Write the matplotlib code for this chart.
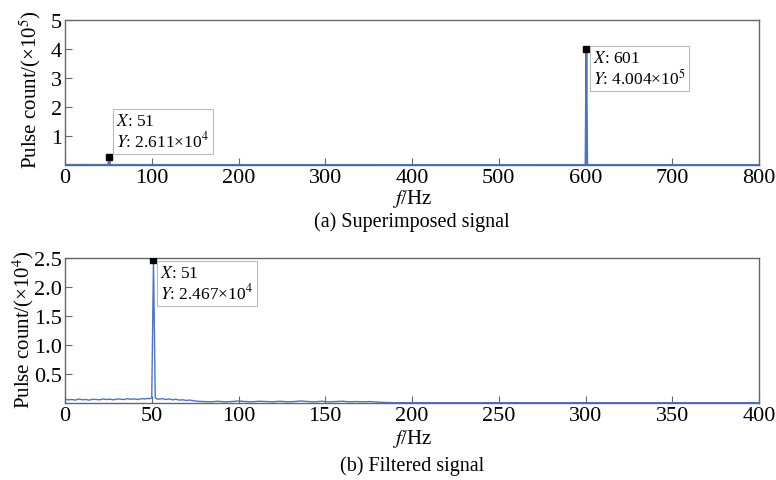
import numpy as np
import matplotlib.pyplot as plt

plt.rcParams['font.family'] = ['Liberation Serif', 'DejaVu Serif']
plt.rcParams['mathtext.fontset'] = 'stix'

# (a) superimposed signal: spectrum in pulse counts
topFreq = [0, 10, 20, 30, 40, 49, 50, 51, 52, 53, 100, 200, 300, 400, 500, 599, 600, 601, 602, 603, 700, 800]
topCount = [600, 500, 700, 600, 500, 600, 800, 26110, 700, 500, 400, 300, 300, 200, 200, 300, 900, 400400, 900, 300, 200, 200]

# (b) filtered signal
botFreq = [0, 2, 4, 6, 8, 10, 12, 14, 16, 18, 20, 22, 24, 26, 28, 30, 32, 34, 36, 38, 40, 42, 44, 46, 48,
           49, 50, 51, 52, 53, 54, 56, 58, 60, 62, 64, 66, 68, 70, 72, 74, 76, 80, 84, 88, 92, 96, 100,
           104, 108, 112, 116, 120, 124, 128, 132, 136, 140, 144, 148, 152, 156, 160, 164, 168, 172,
           176, 180, 184, 190, 250, 300, 350, 400]
botCount = [650, 550, 600, 500, 700, 550, 600, 500, 650, 600, 550, 700, 600, 650, 550, 700, 650, 600, 750, 650, 700, 600, 750, 700, 800,
            750, 900, 24670, 900, 700, 650, 750, 600, 700, 550, 650, 500, 550, 450, 500, 400, 300, 250, 200, 300, 200, 250, 350,
            250, 200, 300, 250, 200, 300, 200, 250, 350, 250, 200, 300, 200, 250, 300, 200, 250, 200,
            250, 150, 100, 50, 50, 50, 50, 50]

lineColor = '#4a74c9'
frameColor = '#666666'

fig = plt.figure(figsize=(7.76, 4.81), dpi=100)


def styleAxes(ax):
    for side in ['top', 'right', 'left', 'bottom']:
        ax.spines[side].set_color(frameColor)
        ax.spines[side].set_linewidth(1.0)
    ax.tick_params(direction='in', length=5, width=0.8, color=frameColor,
                   labelsize=16, pad=2, top=False, right=False)


def dataTip(ax, x, y, text, dx, dy, va):
    ax.plot([x], [y], 's', color='black', markersize=5, zorder=5)
    ax.annotate(text, xy=(x, y), xytext=(dx, dy), textcoords='offset pixels',
                ha='left', va=va, fontsize=12.5, linespacing=1.1,
                bbox=dict(boxstyle='square,pad=0.2', fc='white', ec='#bbbbbb', lw=0.8),
                zorder=6)


# top panel
ax1 = fig.add_axes([65 / 776, 1 - 166 / 481, 694 / 776, 145 / 481])
ax1.plot(topFreq, np.array(topCount) / 1e5, color=lineColor, lw=1.4)
ax1.set_xlim(0, 800)
ax1.set_ylim(0, 5)
ax1.set_xticks(np.arange(0, 801, 100))
ax1.set_yticks([1, 2, 3, 4, 5])
styleAxes(ax1)
dataTip(ax1, 51, 26110 / 1e5, '$X$: 51\n$Y$: 2.611×10$^4$', 7, 7, 'bottom')
dataTip(ax1, 601, 400400 / 1e5, '$X$: 601\n$Y$: 4.004×10$^5$', 7, -1, 'top')

fig.text(30 / 776, 1 - 90 / 481, 'Pulse count/(×10$^5$)', rotation=90,
         ha='center', va='center', fontsize=15)
fig.text(412 / 776, 1 - 199 / 481, '$f$/Hz', ha='center', va='center', fontsize=15)
fig.text(412 / 776, 1 - 222 / 481, '(a) Superimposed signal', ha='center', va='center', fontsize=14.5)

# bottom panel
ax2 = fig.add_axes([65 / 776, 1 - 404 / 481, 694 / 776, 145 / 481])
ax2.plot(botFreq, np.array(botCount) / 1e4, color=lineColor, lw=1.0)
ax2.set_xlim(0, 400)
ax2.set_ylim(0, 2.5)
ax2.set_xticks(np.arange(0, 401, 50))
ax2.set_yticks([0.5, 1.0, 1.5, 2.0, 2.5])
ax2.set_yticklabels(['0.5', '1.0', '1.5', '2.0', '2.5'])
styleAxes(ax2)
dataTip(ax2, 51, 24670 / 1e4, '$X$: 51\n$Y$: 2.467×10$^4$', 7, -5, 'top')

fig.text(23 / 776, 1 - 330 / 481, 'Pulse count/(×10$^4$)', rotation=90,
         ha='center', va='center', fontsize=15)
fig.text(412 / 776, 1 - 439 / 481, '$f$/Hz', ha='center', va='center', fontsize=15)
fig.text(412 / 776, 1 - 466 / 481, '(b) Filtered signal', ha='center', va='center', fontsize=14.5)

fig.savefig('out.png', dpi=100)
